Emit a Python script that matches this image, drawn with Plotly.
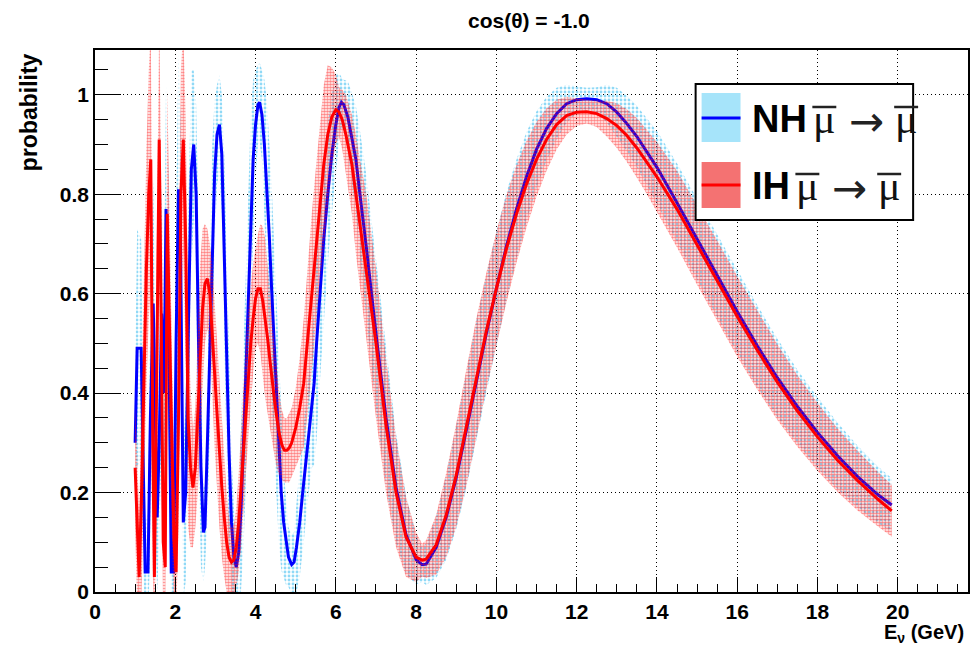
import plotly.graph_objects as go

# ---------------- data ----------------
E_NH = [1.00, 1.05, 1.15, 1.20, 1.25, 1.32, 1.38, 1.45, 1.50, 1.55,
        1.60, 1.66, 1.72, 1.77, 1.83, 1.90, 1.96, 2.02, 2.08, 2.13,
        2.20, 2.26, 2.33, 2.40, 2.46, 2.52, 2.58, 2.64, 2.70, 2.74,
        2.80, 2.86, 2.92, 2.98, 3.04, 3.10, 3.16, 3.22, 3.28, 3.34,
        3.40, 3.46, 3.52, 3.58, 3.64, 3.70, 3.76, 3.82, 3.88, 3.94,
        4.00, 4.06, 4.10, 4.16, 4.22, 4.28, 4.34, 4.40, 4.46, 4.52,
        4.58, 4.64, 4.70, 4.76, 4.82, 4.90, 4.96, 5.02, 5.10, 5.20,
        5.30, 5.40, 5.46, 5.52, 5.60, 5.70, 5.80, 5.90, 6.00, 6.08,
        6.14, 6.20, 6.30, 6.40, 6.50, 6.60, 6.75, 7.00, 7.25, 7.50,
        7.75, 8.00, 8.15, 8.25, 8.50, 8.75, 9.00, 9.25, 9.50, 9.75,
        10.00, 10.25, 10.50, 10.75, 11.00, 11.25, 11.50, 11.75, 12.00, 12.25,
        12.50, 12.75, 13.00, 13.25, 13.50, 13.75, 14.00, 14.50, 15.00, 15.50,
        16.00, 16.50, 17.00, 17.50, 18.00, 18.50, 19.00, 19.50, 19.85]
P_NH = [0.30, 0.49, 0.49, 0.25, 0.04, 0.04, 0.35, 0.58, 0.35, 0.15,
        0.30, 0.56, 0.40, 0.77, 0.60, 0.04, 0.04, 0.50, 0.81, 0.70,
        0.14, 0.20, 0.55, 0.85, 0.90, 0.80, 0.50, 0.25, 0.12, 0.13,
        0.30, 0.50, 0.70, 0.84, 0.92, 0.94, 0.88, 0.70, 0.48, 0.28,
        0.14, 0.07, 0.05, 0.08, 0.17, 0.30, 0.45, 0.60, 0.75, 0.87,
        0.94, 0.98, 0.985, 0.96, 0.90, 0.82, 0.72, 0.61, 0.50, 0.39,
        0.29, 0.20, 0.14, 0.10, 0.07, 0.055, 0.06, 0.09, 0.14, 0.22,
        0.30, 0.37, 0.42, 0.50, 0.60, 0.71, 0.80, 0.88, 0.94, 0.975,
        0.985, 0.98, 0.955, 0.915, 0.87, 0.80, 0.70, 0.52, 0.35, 0.21,
        0.115, 0.065, 0.055, 0.056, 0.09, 0.15, 0.23, 0.325, 0.425, 0.52,
        0.61, 0.695, 0.77, 0.835, 0.89, 0.932, 0.962, 0.982, 0.99, 0.992,
        0.99, 0.982, 0.965, 0.942, 0.916, 0.886, 0.854, 0.783, 0.709, 0.636,
        0.564, 0.495, 0.431, 0.373, 0.321, 0.274, 0.232, 0.196, 0.175]
ERR_NH = [0.15, 0.24, 0.22, 0.20, 0.10, 0.12, 0.22, 0.25, 0.22, 0.15,
          0.20, 0.25, 0.22, 0.25, 0.24, 0.10, 0.12, 0.25, 0.28, 0.25,
          0.15, 0.18, 0.24, 0.20, 0.15, 0.18, 0.24, 0.20, 0.10, 0.08,
          0.16, 0.20, 0.20, 0.15, 0.10, 0.10, 0.12, 0.18, 0.21, 0.19,
          0.14, 0.10, 0.06, 0.10, 0.165, 0.21, 0.23, 0.23, 0.21, 0.16,
          0.11, 0.08, 0.08, 0.09, 0.13, 0.17, 0.195, 0.21, 0.21, 0.205,
          0.19, 0.156, 0.11, 0.086, 0.06, 0.06, 0.06, 0.09, 0.11, 0.12,
          0.117, 0.12, 0.165, 0.195, 0.18, 0.16, 0.14, 0.12, 0.10, 0.07,
          0.05, 0.05, 0.072, 0.09, 0.107, 0.128, 0.145, 0.15, 0.136, 0.11,
          0.079, 0.05, 0.035, 0.042, 0.062, 0.085, 0.104, 0.117, 0.12, 0.117,
          0.115, 0.109, 0.10, 0.09, 0.077, 0.064, 0.052, 0.038, 0.027, 0.022,
          0.025, 0.038, 0.049, 0.056, 0.062, 0.067, 0.073, 0.079, 0.082, 0.083,
          0.083, 0.082, 0.079, 0.074, 0.071, 0.067, 0.062, 0.057, 0.054]

E_IH = [1.00, 1.04, 1.10, 1.16, 1.22, 1.28, 1.34, 1.39, 1.44, 1.48,
        1.54, 1.60, 1.65, 1.70, 1.75, 1.80, 1.85, 1.92, 1.97, 2.02,
        2.08, 2.14, 2.20, 2.26, 2.32, 2.38, 2.44, 2.50, 2.56, 2.62,
        2.68, 2.74, 2.80, 2.86, 2.92, 2.98, 3.04, 3.10, 3.16, 3.22,
        3.28, 3.34, 3.40, 3.46, 3.52, 3.58, 3.64, 3.70, 3.76, 3.82,
        3.88, 3.94, 4.00, 4.06, 4.12, 4.18, 4.24, 4.30, 4.36, 4.42,
        4.48, 4.54, 4.60, 4.66, 4.72, 4.78, 4.84, 4.90, 5.00, 5.10,
        5.20, 5.30, 5.40, 5.50, 5.60, 5.70, 5.80, 5.90, 6.00, 6.08,
        6.16, 6.25, 6.40, 6.50, 6.60, 6.75, 7.00, 7.25, 7.50, 7.75,
        8.00, 8.15, 8.25, 8.50, 8.75, 9.00, 9.25, 9.50, 9.75, 10.00,
        10.25, 10.50, 10.75, 11.00, 11.25, 11.50, 11.75, 12.00, 12.25, 12.50,
        12.75, 13.00, 13.25, 13.50, 13.75, 14.00, 14.50, 15.00, 15.50, 16.00,
        16.50, 17.00, 17.50, 18.00, 18.50, 19.00, 19.50, 19.85]
P_IH = [0.25, 0.15, 0.03, 0.20, 0.45, 0.65, 0.80, 0.87, 0.30, 0.03,
        0.45, 0.91, 0.55, 0.10, 0.05, 0.76, 0.55, 0.30, 0.10, 0.04,
        0.35, 0.80, 0.91, 0.70, 0.35, 0.25, 0.21, 0.25, 0.36, 0.48,
        0.57, 0.62, 0.63, 0.60, 0.53, 0.44, 0.36, 0.28, 0.21, 0.15,
        0.10, 0.07, 0.06, 0.065, 0.09, 0.14, 0.21, 0.29, 0.37, 0.44,
        0.50, 0.55, 0.59, 0.61, 0.61, 0.585, 0.55, 0.51, 0.465, 0.42,
        0.38, 0.345, 0.315, 0.295, 0.285, 0.285, 0.29, 0.30, 0.33, 0.37,
        0.42, 0.51, 0.60, 0.69, 0.78, 0.86, 0.92, 0.955, 0.97, 0.965,
        0.95, 0.92, 0.86, 0.80, 0.74, 0.66, 0.50, 0.335, 0.20, 0.11,
        0.07, 0.064, 0.066, 0.095, 0.155, 0.235, 0.33, 0.43, 0.525, 0.61,
        0.69, 0.76, 0.82, 0.87, 0.91, 0.94, 0.958, 0.965, 0.966, 0.962,
        0.952, 0.938, 0.918, 0.893, 0.865, 0.835, 0.77, 0.698, 0.626, 0.554,
        0.486, 0.422, 0.364, 0.312, 0.265, 0.224, 0.187, 0.163]
ERR_IH = [0.12, 0.15, 0.12, 0.20, 0.24, 0.24, 0.25, 0.26, 0.25, 0.12,
          0.25, 0.25, 0.26, 0.16, 0.10, 0.25, 0.24, 0.20, 0.14, 0.10,
          0.22, 0.25, 0.22, 0.25, 0.22, 0.16, 0.12, 0.12, 0.16, 0.18,
          0.16, 0.12, 0.10, 0.10, 0.13, 0.15, 0.15, 0.15, 0.14, 0.12,
          0.10, 0.08, 0.07, 0.07, 0.08, 0.10, 0.12, 0.13, 0.13, 0.13,
          0.12, 0.11, 0.10, 0.11, 0.13, 0.15, 0.16, 0.15, 0.14, 0.12,
          0.11, 0.10, 0.08, 0.07, 0.065, 0.065, 0.07, 0.07, 0.08, 0.10,
          0.13, 0.15, 0.16, 0.16, 0.16, 0.16, 0.14, 0.10, 0.07, 0.05,
          0.06, 0.08, 0.10, 0.12, 0.13, 0.145, 0.15, 0.135, 0.11, 0.08,
          0.05, 0.033, 0.038, 0.06, 0.085, 0.104, 0.117, 0.12, 0.117, 0.115,
          0.108, 0.098, 0.087, 0.075, 0.063, 0.05, 0.038, 0.028, 0.024, 0.027,
          0.036, 0.045, 0.053, 0.06, 0.065, 0.07, 0.077, 0.08, 0.081, 0.081,
          0.079, 0.076, 0.072, 0.068, 0.064, 0.06, 0.055, 0.052]

TITLE = "cos(θ) = -1.0"
Y_TITLE = "probability"
X_TITLE = "E<sub>ν</sub> (GeV)"
LEG_LABELS = ["NH", "IH"]
MU = "μ"
ARROW = "\u2192"

# ---------------- layout geometry ----------------
# the page adds an 8 px body margin, so the figure is 8 px smaller and all
# positions below are given in screen pixels of the 980x647 window
OFF = 8
SW, SH = 980, 647
W, H = SW - OFF, SH - OFF
PL, PR, PT, PB = 95, 970, 50, 592   # plot frame in screen pixels


def fx(x):
    return (x - PL) / (PR - PL)


def fy(y):
    return (PB - y) / (PB - PT)


def band(E, P, err):
    xs = list(E) + list(E)[::-1]
    hi = [p + e for p, e in zip(P, err)]
    lo = [p - e for p, e in zip(P, err)]
    return xs, hi + lo[::-1]


fig = go.Figure()

bx, by = band(E_NH, P_NH, ERR_NH)
fig.add_trace(go.Scatter(
    x=bx, y=by, mode="lines", fill="toself", line=dict(width=0),
    fillcolor="rgba(0,0,0,0)",
    fillpattern=dict(shape=".", fgcolor="#22b4ee", bgcolor="rgba(0,0,0,0)",
                     size=4, solidity=0.4),
    hoverinfo="skip", showlegend=False))
fig.add_trace(go.Scatter(
    x=E_NH, y=P_NH, mode="lines", line=dict(color="#0000ff", width=3),
    showlegend=False))

bx, by = band(E_IH, P_IH, ERR_IH)
fig.add_trace(go.Scatter(
    x=bx, y=by, mode="lines", fill="toself", line=dict(width=0),
    fillcolor="rgba(0,0,0,0)",
    fillpattern=dict(shape=".", fgcolor="#ff0a0a", bgcolor="rgba(0,0,0,0)",
                     size=3, solidity=0.62),
    hoverinfo="skip", showlegend=False))
fig.add_trace(go.Scatter(
    x=E_IH, y=P_IH, mode="lines", line=dict(color="#ff0000", width=3),
    showlegend=False))

tickfont = dict(family="Liberation Sans", size=21, color="black", weight="bold")
common = dict(showline=True, linecolor="black", linewidth=1.5, mirror=True,
              showgrid=True, gridcolor="black", gridwidth=1, griddash="1px,3px",
              zeroline=False, ticks="inside", tickcolor="black", tickwidth=1,
              tickfont=tickfont)

fig.update_xaxes(range=[0, 21.75], tick0=0, dtick=2, ticklen=15,
                 minor=dict(ticks="inside", ticklen=8, tick0=0, dtick=0.5,
                            tickcolor="black", showgrid=False),
                 **common)
fig.update_yaxes(range=[0, 1.09], tick0=0, dtick=0.2, ticklen=26,
                 minor=dict(ticks="inside", ticklen=13, tick0=0, dtick=0.05,
                            tickcolor="black", showgrid=False),
                 **common)

bold = lambda s: dict(family="Liberation Sans", size=s, color="black", weight="bold")
serif = lambda s: dict(family="Liberation Serif", size=s, color="#111111")


def ann(text, x, y, font, xanchor="center", yanchor="middle", **kw):
    return dict(text=text, x=fx(x), y=fy(y), xref="paper", yref="paper",
                xanchor=xanchor, yanchor=yanchor, showarrow=False, font=font, **kw)


annots = [
    ann(TITLE, 530, 21, bold(21)),
    ann(Y_TITLE, 29, 51, bold(23), yanchor="top", textangle=-90),
    ann(X_TITLE, 968, 633, bold(20), xanchor="right"),
]

shapes = [
    dict(type="rect", xref="paper", yref="paper", x0=fx(697), x1=fx(915),
         y0=fy(220), y1=fy(84), fillcolor="white",
         line=dict(color="black", width=2), layer="above"),
]

# legend rows: label, row centre y, swatch colour, line colour,
# x of first mu, arrow, second mu, swatch top and bottom
rows = [
    (LEG_LABELS[0], 118, "#a6e4fa", "#0000ff", 826, 868, 908, 93, 142),
    (LEG_LABELS[1], 185, "#f47272", "#ff0000", 809, 851, 891, 162, 208),
]
for lab, yc, sw_col, ln_col, mu1, arx, mu2, s0, s1 in rows:
    shapes.append(dict(type="rect", xref="paper", yref="paper",
                       x0=fx(703), x1=fx(742), y0=fy(s1), y1=fy(s0),
                       fillcolor=sw_col, line=dict(width=0), layer="above"))
    shapes.append(dict(type="line", xref="paper", yref="paper",
                       x0=fx(703), x1=fx(742), y0=fy(yc), y1=fy(yc),
                       line=dict(color=ln_col, width=3), layer="above"))
    annots.append(ann("<b>%s</b>" % lab, 752, yc + 1, bold(38), xanchor="left"))
    annots.append(ann(MU, mu1, yc + 1, serif(42)))
    annots.append(ann(MU, mu2, yc + 1, serif(42)))
    annots.append(ann(ARROW, arx, yc + 4, dict(family="DejaVu Sans", size=42,
                                               color="#222222")))
    for mx in (mu1, mu2):
        shapes.append(dict(type="line", xref="paper", yref="paper",
                           x0=fx(mx - 12), x1=fx(mx + 12),
                           y0=fy(yc - 11), y1=fy(yc - 11),
                           line=dict(color="#222222", width=2.5), layer="above"))

fig.update_layout(
    width=W, height=H,
    margin=dict(l=PL - OFF, r=SW - PR, t=PT - OFF, b=SH - PB),
    paper_bgcolor="white", plot_bgcolor="white",
    showlegend=False,
    annotations=annots, shapes=shapes,
)

fig.write_html("out.html")
